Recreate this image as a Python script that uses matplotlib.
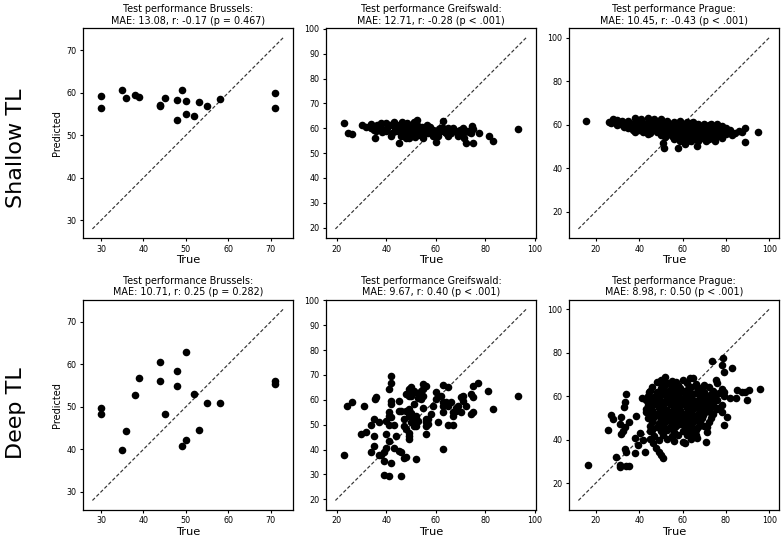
import numpy as np
import matplotlib.pyplot as plt

# Brussels: same test set for both models
bru_true = [30, 30, 35, 36, 38, 39, 44, 44, 45, 48, 48, 49, 50, 50, 52, 53, 55, 58, 71, 71]
bru_shallow = [59.3, 56.4, 60.6, 58.7, 59.5, 59.1, 57.2, 56.8, 58.9, 58.3, 53.5, 60.6,
               58.1, 55.1, 54.5, 57.9, 56.8, 58.5, 60.0, 56.4]
bru_deep = [49.8, 48.4, 39.8, 44.4, 52.8, 56.9, 60.6, 56.1, 48.4, 58.4, 55.0, 40.8,
            63.0, 42.1, 53.0, 44.5, 50.9, 50.8, 56.1, 55.5]

# Greifswald (true, predicted)
gre_shallow = [
    (23, 62), (24.7, 58), (26, 57.7), (30.4, 61.3), (31.7, 60.6), (33.7, 61.6), (35, 59.3),
    (35.5, 56), (36.4, 61.3), (37.7, 62), (38.4, 58.6), (39.7, 62.2), (40.4, 60), (41.7, 61.3),
    (42.4, 58), (43, 62.6), (43.7, 60), (45, 54.2), (45, 61.3), (45.7, 58.6), (46.4, 62.6),
    (47, 60), (47.7, 57.3), (48.4, 62), (48.4, 59.3), (49, 56), (49.7, 60.6), (50.4, 58),
    (51, 62.6), (51.7, 56.6), (52.4, 63.3), (53, 59.3), (53.7, 57.3), (54.4, 60.6), (55, 56),
    (55.7, 58.6), (56.4, 61.3), (57, 58), (57.7, 60.6), (59, 59.3), (60.1, 54.6), (61, 58),
    (61.7, 60), (63, 63), (63.7, 58.6), (65, 60), (66, 58), (67, 59.6), (68.4, 58.6),
    (69.7, 59.3), (71, 60.3), (71.3, 56), (72, 54.2), (73.5, 58.6), (74.4, 60.9), (75, 59.6),
    (75, 54), (77.3, 58), (81.3, 56.9), (83, 54.9), (93.3, 59.6),
    (42, 57), (44, 59), (46, 57), (47, 61), (48, 58), (49, 60), (50, 59), (51, 61), (52, 58),
    (53, 61), (54, 59), (46, 60), (44, 61), (50, 57), (48, 56), (52, 60), (40, 59), (38, 60),
    (36, 59), (34, 60), (58, 58), (60, 59), (62, 59), (64, 58), (66, 59), (68, 59), (70, 58),
    (72, 59), (74, 58), (56, 60), (55, 57), (57, 59), (59, 57), (61, 57), (63, 60), (65, 57),
    (67, 60), (69, 57), (71, 58), (73, 59),
]
gre_deep = [
    (23, 37.7), (24, 57.5), (26, 59.2), (31, 57.6), (30, 46.4), (32, 47.2), (34, 50),
    (34, 38.8), (35, 52.2), (35, 45.5), (35, 41.4), (36, 61.2), (35.5, 60.3), (37, 50.9),
    (37, 37.7), (38, 37.7), (39, 39), (39, 35.4), (39, 29.6), (40, 51.5), (40, 46.2),
    (40, 40.8), (41, 50), (41, 29.3), (41, 43.5), (41, 54.9), (41, 53.6), (41, 64.3),
    (42, 69.7), (42, 66.6), (42, 59.6), (42, 58.5), (42, 52.9), (42, 34.7), (43, 49.9),
    (43, 40.8), (44, 45.5), (45, 59.6), (45, 55.6), (45, 39.4), (46, 55.3), (46, 39),
    (46, 29.3), (47, 52.2), (47, 49.5), (47, 36.7), (48, 62.3), (48, 55.6), (48, 48.2),
    (48, 37.1), (49, 64.3), (49, 61.6), (49, 56.3), (49, 53.6), (49, 46.8), (49, 45.5),
    (49, 44.1), (50, 65), (50, 61.6), (50, 54.6), (50, 50.9), (51, 63.7), (51, 58.3),
    (51, 52.2), (51, 49.5), (52, 36.3), (52, 53.6), (52, 49.5), (53, 62.3), (53, 60.9),
    (53, 51.5), (54, 63.7), (54, 60.3), (55, 66.4), (55, 64.3), (55, 61.6), (55, 56.9),
    (56, 65.7), (56, 52.2), (56, 50.9), (56, 49.5), (56, 46.4), (57, 52.2), (57, 50.2),
    (58, 54.2), (59, 57.6), (60, 63), (60, 60.3), (61, 50.9), (62, 61.6), (63, 66.1),
    (63, 59), (63, 57.6), (63, 55), (63, 40.1), (64, 59), (65, 65), (65, 57.6), (65, 50),
    (66, 59), (67, 50), (67, 55), (67, 53.6), (68, 56.9), (68, 55.6), (69, 57.6), (70, 61),
    (70, 55), (71, 61.6), (71, 59.6), (72, 57.6), (74, 62.3), (74, 54.2), (75, 65.7),
    (75, 61), (75, 55.2), (77, 66.8), (81, 63.4), (83, 56.4), (93, 61.4),
]

# Prague (true, predicted)
pra_shallow = [
    (28, 62.5), (30, 62.3), (38, 62.8), (41, 62.4), (44, 63.0), (47, 62.6), (50, 62.4),
    (15.7, 61.7), (26, 61.2), (29, 61.6), (32, 61.4), (35, 61.8), (38, 61.3), (41, 61.6),
    (44, 61.2), (47, 61.7), (50, 61.4), (53, 61.6), (56, 61.3), (59, 61.5), (62, 61.2), (65, 61.0),
    (27, 60.6), (31, 60.3), (34, 60.7), (37, 60.4), (40, 60.8), (43, 60.4), (46, 60.6),
    (49, 60.3), (52, 60.7), (55, 60.4), (58, 60.6), (61, 60.3), (64, 60.5), (67, 60.2),
    (70, 60.4), (73, 60.1), (76, 60.3),
    (30, 59.6), (33, 59.4), (36, 59.7), (39, 59.3), (42, 59.5), (45, 59.6), (48, 59.2),
    (51, 59.5), (54, 59.7), (57, 59.4), (60, 59.6), (63, 59.3), (66, 59.5), (69, 59.4),
    (72, 59.6), (75, 59.2), (78, 59.5),
    (33, 59.0), (35, 58.6), (38, 58.3), (41, 58.5), (44, 58.7), (47, 58.4), (50, 58.6),
    (53, 58.3), (56, 58.5), (59, 58.7), (62, 58.4), (65, 58.6), (68, 58.3), (71, 58.5),
    (74, 58.6), (77, 58.2), (80, 58.4),
    (37, 57.6), (40, 57.3), (43, 57.5), (46, 57.7), (49, 57.4), (52, 57.6), (55, 57.3),
    (58, 57.5), (61, 57.6), (64, 57.3), (67, 57.5), (70, 57.7), (73, 57.4), (76, 57.5),
    (79, 57.3), (82, 57.5), (86, 57.2),
    (38, 56.4), (42, 56.6), (45, 56.3), (48, 56.5), (51, 56.7), (54, 56.4), (57, 56.6),
    (60, 56.3), (63, 56.5), (66, 56.7), (69, 56.4), (72, 56.6), (75, 56.3), (78, 56.5),
    (81, 56.4), (84, 56.2), (87.5, 56.6), (89, 58.2), (95, 56.6),
    (44, 55.6), (50, 55.4), (53, 55.6), (56, 55.3), (59, 55.5), (62, 55.7), (65, 55.4),
    (68, 55.6), (71, 55.3), (74, 55.5), (77, 55.4), (80, 55.6), (83, 55.2),
    (52, 54.4), (55, 54.6), (58, 54.3), (61, 54.5), (64, 54.7), (67, 54.4), (70, 54.6),
    (73, 54.3), (76, 54.5),
    (56, 53.4), (60, 53.6), (63, 53.3), (66, 53.5), (69, 53.7), (72, 53.4), (78, 54.0),
    (59, 52.4), (62, 52.6), (64, 52.2), (67, 52.5), (71, 52.3), (75, 52.6),
    (50.8, 51.3), (51.6, 49.3), (57.7, 49.0), (66.6, 50.0), (61, 51.2), (89, 52.0),
]
pra_deep = [
    # scattered points
    (16.2, 28.3), (29.2, 31.8), (31, 28.3), (31.3, 27.5), (34, 28), (35.3, 28), (33.6, 35.6),
    (34, 34.4), (25.8, 44.2), (27, 51.3), (28, 49.3), (31.5, 50.5), (31, 47.2), (31.5, 42.6),
    (32.5, 44.1), (33.3, 45.9), (32.8, 55.1), (33.3, 57.4), (34, 60.8), (35.3, 48.2),
    (37.9, 40.6), (38, 33.6), (38.6, 51), (39.4, 37.5), (40.2, 42.9), (41.1, 59.3),
    (41.7, 39.8), (42.5, 34.4), (43, 52.5), (44.5, 62), (45.2, 43.9), (46.6, 38.2),
    (47.8, 35.9), (49, 34.4), (50.1, 32.9), (51.2, 31.6), (52.1, 69), (49.1, 66.4),
    (50.1, 67.4), (55.9, 39.3), (57.9, 65.1), (58.8, 62), (60.4, 39), (61.3, 38.2),
    (63.1, 51.3), (63.4, 68.5), (64.6, 68.2), (65.1, 42.1), (66.8, 40.6), (69.2, 51.3),
    (70.8, 39), (71.5, 45.9), (71.5, 43.6), (72.9, 52.1), (73.8, 75.9), (75.3, 67.4),
    (76.4, 54.7), (78.1, 74.3), (78.4, 52.5), (78.7, 77.4), (79, 71), (78.9, 46.7),
    (80.7, 50.5), (82.7, 73.1), (81.8, 59), (84.5, 59), (85, 62.8), (87.6, 62), (88.8, 62),
    (89.6, 58.2), (90.6, 62.8), (95.7, 63.3), (78.9, 62), (78.1, 63.1), (76.1, 65.9),
    # dense core
    (48, 66.3), (53, 65.8), (57, 66.4), (62, 66.0), (66, 65.6), (60, 67.2), (55, 67.0),
    (46, 64.2), (50, 63.8), (55, 64.4), (59, 63.9), (64, 64.3), (68, 63.7), (72, 64.1),
    (52, 65.0), (57, 63.2), (62, 63.0), (66, 64.8), (70, 65.3),
    (45, 62.3), (48, 61.8), (52, 62.2), (56, 61.7), (60, 62.4), (63, 61.9), (67, 62.1),
    (70, 61.7), (74, 62.3), (77, 61.6), (50, 62.9), (54, 63.0), (58, 61.0), (65, 60.9),
    (44, 60.2), (47, 59.7), (50, 60.3), (54, 59.8), (57, 60.1), (61, 59.6), (64, 60.3),
    (68, 59.8), (71, 60.2), (75, 59.7), (79, 60.1), (52, 61.0), (59, 59.0), (66, 61.2), (73, 60.8),
    (43, 58.1), (46, 57.7), (49, 58.3), (52, 57.8), (55, 58.2), (59, 57.7), (62, 58.3),
    (66, 57.9), (69, 58.2), (73, 57.6), (76, 58.1), (48, 59.0), (57, 59.0), (64, 59.0), (71, 59.0),
    (44, 55.8), (47, 56.3), (51, 55.7), (54, 56.2), (57, 55.9), (60, 56.3), (64, 55.7),
    (67, 56.1), (71, 55.8), (74, 56.2), (78, 55.9), (49, 57.0), (56, 57.1), (62, 57.0), (69, 56.9),
    (43, 54.2), (46, 53.8), (49, 54.3), (53, 53.7), (56, 54.1), (59, 53.8), (62, 54.3),
    (65, 53.9), (69, 54.2), (72, 53.7), (76, 54.1), (51, 55.0), (58, 55.0), (66, 55.1), (73, 55.0),
    (45, 52.1), (48, 51.7), (51, 52.3), (54, 51.8), (58, 52.2), (61, 51.7), (64, 52.3),
    (67, 51.9), (70, 52.2), (74, 51.8), (50, 53.0), (56, 53.0), (63, 52.9), (68, 53.1),
    (44, 49.8), (47, 50.3), (50, 49.7), (53, 50.2), (56, 49.8), (60, 50.3), (63, 49.7),
    (66, 50.2), (69, 49.9), (73, 50.1), (52, 51.0), (58, 51.1), (65, 51.0),
    (46, 48.2), (49, 47.7), (52, 48.3), (55, 47.8), (58, 48.1), (62, 47.7), (65, 48.3),
    (68, 47.9), (72, 48.2), (54, 49.0), (60, 48.9), (67, 49.0),
    (45, 46.1), (48, 45.7), (51, 46.3), (54, 45.8), (57, 46.2), (61, 45.7), (64, 46.1),
    (67, 45.8), (70, 46.2), (50, 47.0), (59, 47.0),
    (46, 44.2), (50, 43.8), (53, 44.3), (56, 43.7), (60, 44.1), (63, 43.8), (66, 44.2),
    (47, 41.8), (51, 42.2), (55, 41.7), (58, 42.3), (62, 41.9), (66, 42.1),
    (45, 40.2), (49, 39.8), (53, 40.3), (64, 40.1),
]

row_labels = ["Shallow TL", "Deep TL"]
sites = ["Brussels", "Greifswald", "Prague"]
stats = [
    ["MAE: 13.08, r: -0.17 (p = 0.467)", "MAE: 12.71, r: -0.28 (p < .001)", "MAE: 10.45, r: -0.43 (p < .001)"],
    ["MAE: 10.71, r: 0.25 (p = 0.282)", "MAE: 9.67, r: 0.40 (p < .001)", "MAE: 8.98, r: 0.50 (p < .001)"],
]
diag_range = [(28, 73), (19.5, 96.5), (12, 100)]
xticks = [[30, 40, 50, 60, 70], [20, 40, 60, 80, 100], [20, 40, 60, 80, 100]]
yticks = [[30, 40, 50, 60, 70], list(range(20, 101, 10)), [20, 40, 60, 80, 100]]

panels = [
    [list(zip(bru_true, bru_shallow)), gre_shallow, pra_shallow],
    [list(zip(bru_true, bru_deep)), gre_deep, pra_deep],
]

fig, axes = plt.subplots(2, 3, figsize=(7.82, 5.38), dpi=100)
fig.subplots_adjust(left=0.106, right=0.996, bottom=0.052, top=0.948, wspace=0.157, hspace=0.29)

for r in range(2):
    for c in range(3):
        ax = axes[r, c]
        pts = np.array(panels[r][c])
        lo, hi = diag_range[c]
        ax.plot([lo, hi], [lo, hi], ls='--', dashes=(3, 1.8), color='0.2', lw=0.85)
        ax.scatter(pts[:, 0], pts[:, 1], s=30, color='black', linewidths=0, zorder=3)
        ax.set_xticks(xticks[c])
        ax.set_yticks(yticks[c])
        ax.tick_params(labelsize=5.8, length=2.5, width=0.8, pad=2)
        for sp in ax.spines.values():
            sp.set_linewidth(0.9)
        ax.set_title(f"Test performance {sites[c]}:\n{stats[r][c]}", fontsize=6.9, pad=3, linespacing=1.2)
        ax.set_xlabel("True", fontsize=8.2, labelpad=1)
        if c == 0:
            ax.set_ylabel("Predicted", fontsize=7, labelpad=3)

fig.text(0.02, 0.725, row_labels[0], rotation=90, fontsize=16, ha='center', va='center')
fig.text(0.02, 0.232, row_labels[1], rotation=90, fontsize=16, ha='center', va='center')

fig.savefig("out.png", dpi=100)
